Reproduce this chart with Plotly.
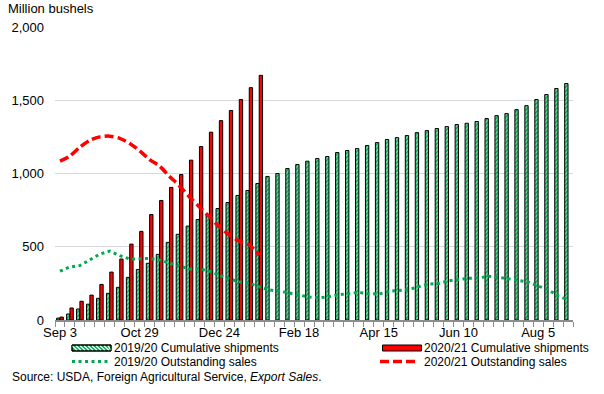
import plotly.graph_objects as go

weeks = ["Sep 3", "Sep 10", "Sep 17", "Sep 24", "Oct 1", "Oct 8", "Oct 15", "Oct 22",
         "Oct 29", "Nov 5", "Nov 12", "Nov 19", "Nov 26", "Dec 3", "Dec 10", "Dec 17",
         "Dec 24", "Dec 31", "Jan 7", "Jan 14", "Jan 21", "Jan 28", "Feb 4", "Feb 11",
         "Feb 18", "Feb 25", "Mar 4", "Mar 11", "Mar 18", "Mar 25", "Apr 1", "Apr 8",
         "Apr 15", "Apr 22", "Apr 29", "May 6", "May 13", "May 20", "May 27", "Jun 3",
         "Jun 10", "Jun 17", "Jun 24", "Jul 1", "Jul 8", "Jul 15", "Jul 22", "Jul 29",
         "Aug 5", "Aug 12", "Aug 19", "Aug 26"]
label_every = 8

cum_2019 = [13, 41, 75, 108, 148, 182, 223, 291, 345, 387, 448, 530, 585, 641, 686, 716,
            761, 802, 850, 884, 932, 980, 1000, 1034, 1061, 1084, 1102, 1116, 1143, 1157,
            1170, 1191, 1211, 1232, 1245, 1259, 1279, 1293, 1307, 1320, 1334, 1343, 1355,
            1375, 1395, 1409, 1436, 1463, 1505, 1539, 1580, 1614]
cum_2020 = [20, 82, 128, 170, 243, 327, 416, 518, 605, 720, 816, 905, 993, 1091, 1184,
            1282, 1361, 1430, 1505, 1586, 1670]
out_2019 = [333, 362, 372, 412, 450, 470, 440, 416, 419, 420, 410, 390, 368, 348, 348,
            334, 307, 280, 261, 250, 227, 205, 198, 185, 170, 157, 152, 159, 173, 182,
            188, 180, 177, 195, 201, 208, 227, 246, 249, 267, 276, 285, 287, 298, 292,
            284, 271, 258, 235, 207, 165, 138]
out_2020 = [1085, 1120, 1180, 1227, 1250, 1255, 1240, 1205, 1155, 1095, 1050, 980, 915,
            840, 772, 704, 637, 580, 538, 513, 443]

y_ticks = [0, 500, 1000, 1500, 2000]

GREEN = "#00A94F"
RED = "#FF0000"
FONT = "Liberation Sans, Arial, sans-serif"

W, H = 604, 394
ML, MR, MT, MB = 55, 31, 27, 74
PW, PH = W - ML - MR, H - MT - MB


def px(x):
    return (x - ML) / PW


def py(y):
    return (H - MB - y) / PH


fig = go.Figure()
fig.add_trace(go.Bar(
    x=weeks, y=cum_2019, name="2019/20 Cumulative shipments",
    marker=dict(color=GREEN, line=dict(color="black", width=1),
                pattern=dict(shape="/", fgcolor="white", bgcolor=GREEN, size=3, solidity=0.5)),
    showlegend=False))
fig.add_trace(go.Bar(
    x=weeks[:len(cum_2020)], y=cum_2020, name="2020/21 Cumulative shipments",
    marker=dict(color=RED, line=dict(color="black", width=1)), showlegend=False))
fig.add_trace(go.Scatter(
    x=weeks, y=out_2019, mode="lines", name="2019/20 Outstanding sales",
    line=dict(color=GREEN, width=3, dash="3px,3.5px"), showlegend=False))
fig.add_trace(go.Scatter(
    x=weeks[:len(out_2020)], y=out_2020, mode="lines", name="2020/21 Outstanding sales",
    line=dict(color=RED, width=3.5, dash="9px,4px", shape="spline", smoothing=0.8),
    showlegend=False))

ticktext = [w if i % label_every == 0 else "" for i, w in enumerate(weeks)]

fig.update_layout(
    width=W, height=H, autosize=False,
    margin=dict(l=ML, r=MR, t=MT, b=MB, pad=0),
    paper_bgcolor="white", plot_bgcolor="white",
    barmode="group", bargap=0.33, bargroupgap=0,
    font=dict(family=FONT, size=13, color="black"),
    xaxis=dict(type="category", tickmode="array", tickvals=weeks, ticktext=ticktext,
               tickson="boundaries", ticks="outside", ticklen=5, tickcolor="#8C8C8C",
               showline=True, linecolor="#8C8C8C", linewidth=1.5, showgrid=False,
               tickangle=0, tickfont=dict(size=13), fixedrange=True),
    yaxis=dict(range=[0, 2000], tickvals=y_ticks, tickformat=",", showgrid=True,
               gridcolor="#D9D9D9", gridwidth=1, zeroline=False, showline=False,
               ticks="", ticklabelstandoff=10, tickfont=dict(size=13), fixedrange=True),
)

shapes = []
annots = []

R1, R2, RS = 348.0, 362.0, 376.5

# Legend row 1: hatched green swatch
shapes.append(dict(type="rect", xref="paper", yref="paper", x0=px(72), x1=px(111),
                   y0=py(R1 + 3), y1=py(R1 - 3), fillcolor=GREEN,
                   line=dict(color="black", width=1), layer="above"))
for k in range(0, 40, 4):
    xa = 72 + k
    xb = min(xa + 5, 111)
    shapes.append(dict(type="line", xref="paper", yref="paper", x0=px(xa), x1=px(xb),
                       y0=py(R1 - 2.3), y1=py(R1 + 2.3), line=dict(color="white", width=1.2),
                       layer="above"))
shapes.append(dict(type="rect", xref="paper", yref="paper", x0=px(72), x1=px(111),
                   y0=py(R1 + 3), y1=py(R1 - 3), fillcolor="rgba(0,0,0,0)",
                   line=dict(color="black", width=1), layer="above"))
# red swatch
shapes.append(dict(type="rect", xref="paper", yref="paper", x0=px(382.5), x1=px(421.5),
                   y0=py(R1 + 3), y1=py(R1 - 3), fillcolor=RED,
                   line=dict(color="black", width=1), layer="above"))
# Legend row 2 lines
shapes.append(dict(type="line", xref="paper", yref="paper", x0=px(72), x1=px(111),
                   y0=py(R2 - 0.5), y1=py(R2 - 0.5),
                   line=dict(color=GREEN, width=3, dash="3px,3.5px")))
shapes.append(dict(type="line", xref="paper", yref="paper", x0=px(380), x1=px(416),
                   y0=py(R2 - 0.5), y1=py(R2 - 0.5),
                   line=dict(color=RED, width=3.5, dash="9px,4px")))

leg_font = dict(family=FONT, size=12, color="black")
for text, x, y in [("2019/20 Cumulative shipments", 113, R1),
                   ("2020/21 Cumulative shipments", 423, R1),
                   ("2019/20 Outstanding sales", 113, R2),
                   ("2020/21 Outstanding sales", 423, R2)]:
    annots.append(dict(text=text, xref="paper", yref="paper", x=px(x), y=py(y),
                       xanchor="left", yanchor="middle", showarrow=False, font=leg_font,
                       borderpad=0))

annots.append(dict(text="Source: USDA, Foreign Agricultural Service, <i>Export Sales</i>.",
                   xref="paper", yref="paper", x=px(10.5), y=py(RS), xanchor="left",
                   yanchor="middle", showarrow=False, font=leg_font, borderpad=0))
annots.append(dict(text="Million bushels", xref="paper", yref="paper", x=px(6), y=py(9),
                   xanchor="left", yanchor="middle", showarrow=False,
                   font=dict(family=FONT, size=13, color="black")))

fig.update_layout(shapes=shapes, annotations=annots)
fig.write_html("out.html", config={"displayModeBar": False},
               post_script="document.body.style.margin='0px';document.body.style.padding='0px';")
